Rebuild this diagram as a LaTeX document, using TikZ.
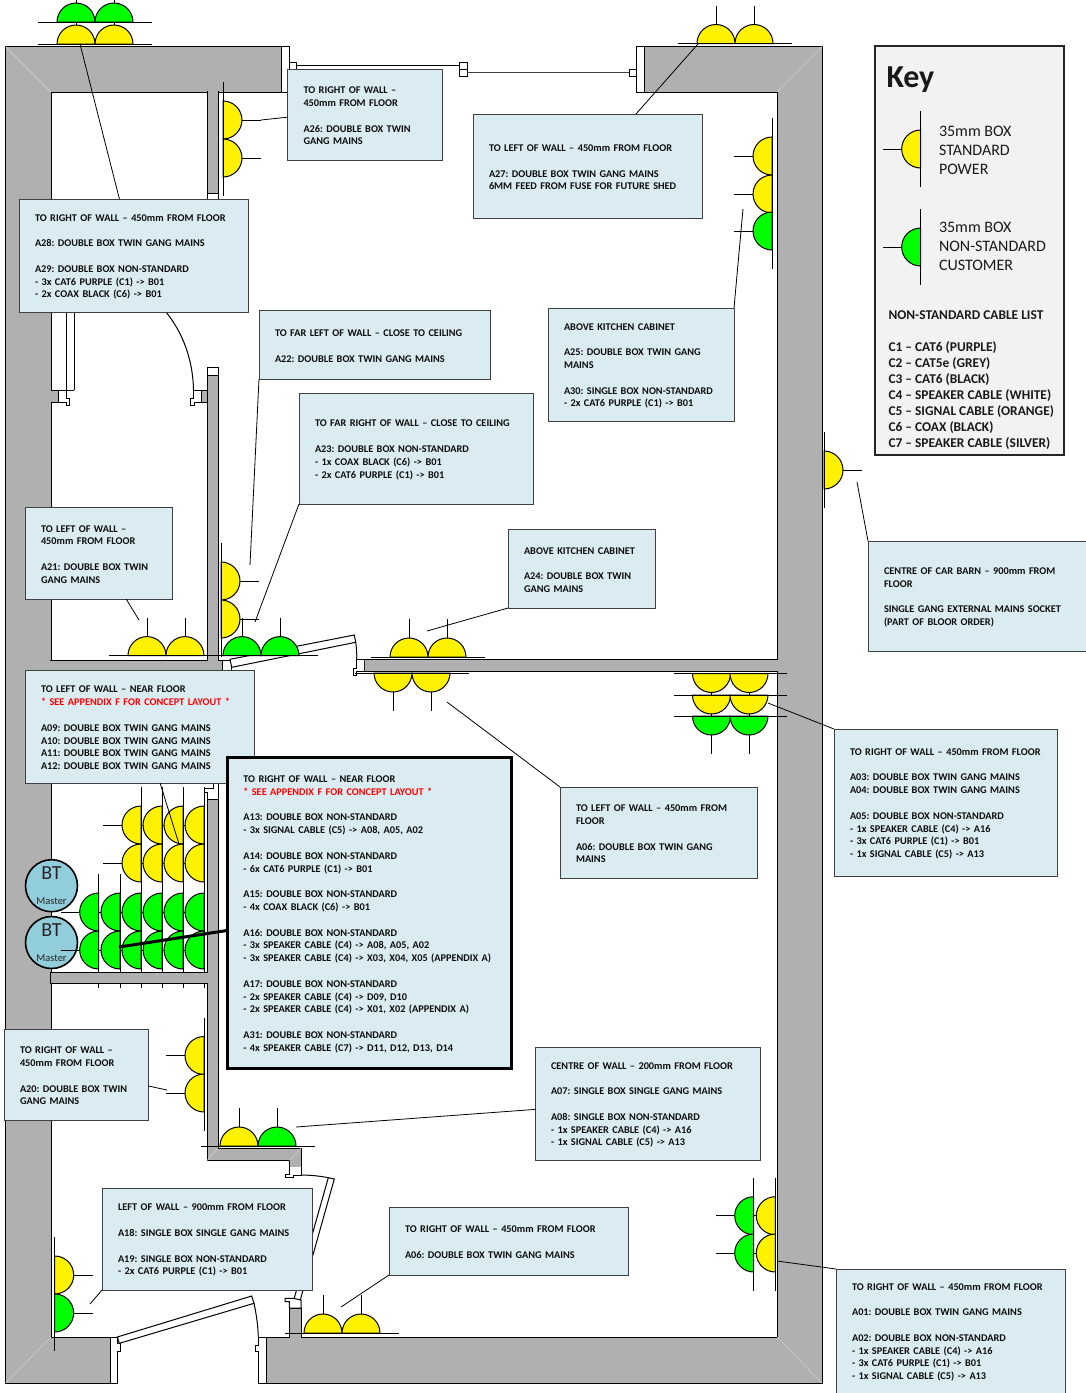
\documentclass[tikz,border=0pt]{standalone}
\usepackage{fontspec}
\setmainfont{Carlito}
\frenchspacing
\definecolor{wallgrey}{HTML}{B0B0B0}
\definecolor{noteblue}{HTML}{DAECF2}
\definecolor{keygrey}{HTML}{F2F2F2}
\definecolor{btblue}{HTML}{92CDDC}
\tikzset{
    pics/socket/.style={code={
        \draw[fill=#1] (-19,0) arc[start angle=180,end angle=360,radius=19] -- cycle;
        \draw (0,-19) -- (0,-38);
        \draw (-38,0) -- (38,0);
    }},
    wall/.style={draw,fill=wallgrey},
    jam/.style={draw,fill=white},
    mitre/.style={draw=white!85!black,line width=0.4pt},
    notebox/.style 2 args={draw=black!75,fill=noteblue,anchor=north west,outer sep=0pt,inner xsep=16pt,inner ysep=0pt,
        align=left,text=black!95,text width=(#1-32)*1pt,minimum height=#2*1pt,
        execute at begin node={\rule{0pt}{9.5pt}},
        font=\fontsize{10.3}{12.8}\selectfont\bfseries},
    btnode/.style={circle,draw,line width=1.6pt,fill=btblue,minimum size=52pt,inner sep=0pt,align=center,text=black!85},
    keytext/.style={anchor=west,inner sep=0pt,align=left,text=black!90},
    leader/.style={draw,line width=0.8pt},
}
\begin{document}
\begin{tikzpicture}[x=1pt,y=-1pt,line width=1pt]
    \path[use as bounding box,clip] (0,0) rectangle (1086,1393);

    \draw[wall] (5.5,46.5) -- (281,46.5) -- (281,92) -- (51,92) -- (51,1337) -- (110,1337) -- (110,1383) -- (5.5,1383) -- cycle;
    \draw[wall] (644,46.5) -- (822,46.5) -- (822,1383) -- (266,1383) -- (266,1337) -- (289.3,1337) -- (289.3,1308) -- (301,1308) -- (301,1337) -- (777,1337) -- (777,92) -- (644,92) -- cycle;
    \draw[mitre] (5.5,46.5) -- (51,92) (822,46.5) -- (777,92) (5.5,1383) -- (51,1337) (822,1383) -- (777,1337);

    \draw[jam] (281,46.5) rectangle (289,92);
    \draw[jam] (636.5,46.5) rectangle (644,92);
    \draw[jam] (289,62) rectangle (296.5,69);
    \draw[jam] (459,62) rectangle (467,69);
    \draw[jam] (459,69) rectangle (467,76);
    \draw[jam] (629,69) rectangle (636.5,76);
    \draw (296.5,65) -- (459,65);
    \draw[black!75] (467,72.7) -- (629,72.7);

    \foreach \x in {204,183,162,141}
        \foreach \y in {825,863}
            \pic[rotate=90] at (\x,\y) {socket=yellow};
    \node[btnode] (bta) at (51.5,885.7) {\fontsize{20}{20}\selectfont BT\\[13pt]\fontsize{10.5}{11}\selectfont Master};
    \node[btnode] (btb) at (51.5,942.5) {\fontsize{20}{20}\selectfont BT\\[13pt]\fontsize{10.5}{11}\selectfont Master};
    \foreach \x in {204,183,162,141,120,98.7}
        \foreach \y in {912,950}
            \pic[rotate=90] at (\x,\y) {socket=green};

    \draw[wall] (207,91) -- (207,193) -- (218,193) -- (218,91);
    \draw[jam] (207,193) rectangle (218,199);
    \draw[jam] (207,367) rectangle (218,375);
    \draw[wall] (50,660) -- (207,660) -- (207,375) -- (218,375) -- (218,660) -- (222,660) -- (222,670.5) -- (50,670.5);
    \draw[wall] (778,659) -- (364,659) -- (364,671) -- (778,671);
    \draw[wall] (207,799) -- (218,799) -- (218,1148) -- (301,1148) -- (301,1167) -- (289.3,1167) -- (289.3,1160.5) -- (207,1160.5) -- (207,983.5) -- (50,983.5) -- (50,972.5) -- (207,972.5) -- cycle;
    \draw[mitre] (207,1160.5) -- (218,1148) (301,1148) -- (289.3,1160.5);

    \draw (66,312) -- (66,390) (74,312) -- (74,390);
    \draw (51,390) -- (74,390);
    \draw[wall] (51,390) -- (58.5,390) -- (58.5,402) -- (51,402);
    \draw (66,390) -- (66,398) -- (69.5,398) -- (69.5,405.7) -- (66,405.7) -- (66,402) -- (58.5,402);
    \draw[wall] (207,390) -- (201,390) -- (201,402) -- (207,402);
    \draw (201,390) -- (193.3,390) -- (193.3,398) -- (190,398) -- (190,405.7) -- (194,405.7) -- (194,402) -- (201,402);
    \draw (166,312) .. controls (183,333) and (193,360) .. (193.5,390);

    \draw[jam] (222,660) rectangle (231,670.5);
    \draw[jam] (230,659.3) -- (231.7,667.3) -- (355.7,642.3) -- (354.3,635) -- cycle;
    \draw (355.7,642.3) .. controls (356.5,648) and (357,654) .. (356.7,659.3);
    \draw[jam] (364,659.3) -- (356.7,659.3) -- (356.7,668) -- (353.3,668) -- (353.3,675) -- (356.7,675) -- (356.7,671) -- (364,671);

    \draw[jam] (213,783) -- (213,788) -- (204,788) -- (204,792) -- (207,792) -- (207,799) -- (218,799) -- (218,783);

    \draw[jam] (289.3,1167) -- (289.3,1174.3) -- (285,1174.3) -- (285,1177.7) -- (293.3,1177.7) -- (293.3,1175) -- (301,1175) -- (301,1167);
    \draw (301,1175) .. controls (310,1175) and (320,1176) .. (328.3,1177.7);
    \draw[jam] (328.3,1177.7) -- (334.3,1179) -- (300,1301) -- (294,1299) -- cycle;
    \draw[jam] (285,1298.3) -- (285,1301.7) -- (289.3,1301.7) -- (289.3,1308) -- (301,1308) -- (301,1300) -- (293.3,1298.3) -- cycle;

    \draw[jam] (117.3,1337) -- (117.3,1343.3) -- (120,1343.3) -- (120,1351.7) -- (117.3,1351.7) -- (117.3,1383) -- (110,1383) -- (110,1337) -- cycle;
    \draw[jam] (117.3,1337) -- (251.7,1296) -- (254,1303.3) -- (119.3,1343.3) -- cycle;
    \draw (254,1303.3) .. controls (256.5,1315) and (258,1326) .. (258.3,1337);
    \draw[jam] (258.3,1337) -- (258.3,1345) -- (255,1345) -- (255,1351.7) -- (258.3,1351.7) -- (258.3,1383) -- (266,1383) -- (266,1337) -- cycle;

    \foreach \x in {76,114} {
        \pic at (\x,44) {socket=yellow};
        \pic at (\x,22) {socket=green};
    }
    \foreach \x in {716,754}
        \pic at (\x,43.5) {socket=yellow};
    \foreach \y in {120,158}
        \pic[rotate=-90] at (223,\y) {socket=yellow};
    \foreach \y/\c in {156/yellow,194/yellow,231/green}
        \pic[rotate=90] at (772,\y) {socket=\c};
    \foreach \y in {581,619}
        \pic[rotate=-90] at (221,\y) {socket=yellow};
    \foreach \x/\c in {147/yellow,185/yellow,242/green,280/green}
        \pic at (\x,655.6) {socket=\c};
    \foreach \x in {409,447}
        \pic at (\x,657) {socket=yellow};
    \foreach \x in {393,431}
        \pic[rotate=180] at (\x,673) {socket=yellow};
    \foreach \y/\c in {673.5/yellow,695/yellow,716/green} {
        \pic[rotate=180] at (711.5,\y) {socket=\c};
        \pic[rotate=180] at (749,\y) {socket=\c};
    }
    \foreach \y in {1055.5,1093}
        \pic[rotate=90] at (204,\y) {socket=yellow};
    \foreach \x/\c in {239/yellow,277/green}
        \pic at (\x,1146) {socket=\c};
    \foreach \y/\c in {1275/yellow,1313/green}
        \pic[rotate=-90] at (54.7,\y) {socket=\c};
    \foreach \x in {323,361}
        \pic at (\x,1333) {socket=yellow};
    \foreach \y in {1215.7,1253} {
        \pic[rotate=90] at (775.3,\y) {socket=yellow};
        \pic[rotate=90] at (753.7,\y) {socket=green};
    }
    \pic[rotate=-90] at (824,470) {socket=yellow};

    \node[draw=black!85,line width=2pt,fill=keygrey,anchor=north west,outer sep=0pt,minimum width=189pt,minimum height=409pt,inner sep=0pt] (key) at (875,46) {};
    \node[keytext,font=\fontsize{32}{34}\selectfont\bfseries] (keyhead) at (886,79.5) {Key};
    \pic[rotate=90] at (920.7,149) {socket=yellow};
    \pic[rotate=90] at (920.7,247) {socket=green};
    \node[keytext,font=\fontsize{16}{19}\selectfont] (keypower) at (938.5,150) {35mm BOX\\STANDARD\\POWER};
    \node[keytext,font=\fontsize{16}{19}\selectfont] (keycustomer) at (938.5,246) {35mm BOX\\NON-STANDARD\\CUSTOMER};
    \node[keytext,font=\fontsize{13.4}{16}\selectfont\bfseries] (keyhead2) at (888,315) {NON-STANDARD CABLE LIST};
    \node[keytext,font=\fontsize{13.4}{16}\selectfont\bfseries] (keycables) at (888,396) {C1 – CAT6 (PURPLE)\\C2 – CAT5e (GREY)\\C3 – CAT6 (BLACK)\\C4 – SPEAKER CABLE (WHITE)\\C5 – SIGNAL CABLE (ORANGE)\\C6 – COAX (BLACK)\\C7 – SPEAKER CABLE (SILVER)};

    \node[notebox={155}{91}] (a26) at (287.5,69) {TO RIGHT OF WALL –\\450mm FROM FLOOR\\[12.8pt]A26: DOUBLE BOX TWIN\\GANG MAINS};
    \node[notebox={229}{104}] (a27) at (473,114) {TO LEFT OF WALL – 450mm FROM FLOOR\\[12.8pt]A27: DOUBLE BOX TWIN GANG MAINS\\6MM FEED FROM FUSE FOR FUTURE SHED};
    \node[notebox={229}{113}] (a28) at (19,199) {TO RIGHT OF WALL – 450mm FROM FLOOR\\[12.8pt]A28: DOUBLE BOX TWIN GANG MAINS\\[12.8pt]A29: DOUBLE BOX NON-STANDARD\\- 3x CAT6 PURPLE (C1) -> B01\\- 2x COAX BLACK (C6) -> B01};
    \node[notebox={231}{69}] (a22) at (259,310) {TO FAR LEFT OF WALL – CLOSE TO CEILING\\[12.8pt]A22: DOUBLE BOX TWIN GANG MAINS};
    \node[notebox={186}{113}] (a25) at (548,308) {ABOVE KITCHEN CABINET\\[12.8pt]A25: DOUBLE BOX TWIN GANG\\MAINS\\[12.8pt]A30: SINGLE BOX NON-STANDARD\\- 2x CAT6 PURPLE (C1) -> B01};
    \node[notebox={234}{111}] (a23) at (299,393) {TO FAR RIGHT OF WALL – CLOSE TO CEILING\\[12.8pt]A23: DOUBLE BOX NON-STANDARD\\- 1x COAX BLACK (C6) -> B01\\- 2x CAT6 PURPLE (C1) -> B01};
    \node[notebox={147}{92}] (a21) at (25,507) {TO LEFT OF WALL –\\450mm FROM FLOOR\\[12.8pt]A21: DOUBLE BOX TWIN\\GANG MAINS};
    \node[notebox={147}{79}] (a24) at (508,529) {ABOVE KITCHEN CABINET\\[12.8pt]A24: DOUBLE BOX TWIN\\GANG MAINS};
    \node[notebox={218}{110}] (barn) at (868,541) {CENTRE OF CAR BARN – 900mm FROM\\FLOOR\\[12.8pt]SINGLE GANG EXTERNAL MAINS SOCKET\\(PART OF BLOOR ORDER)};
    \node[notebox={229}{113}] (a09) at (25,670) {TO LEFT OF WALL – NEAR FLOOR\\\textcolor{red}{* SEE APPENDIX F FOR CONCEPT LAYOUT *}\\[12.8pt]A09: DOUBLE BOX TWIN GANG MAINS\\A10: DOUBLE BOX TWIN GANG MAINS\\A11: DOUBLE BOX TWIN GANG MAINS\\A12: DOUBLE BOX TWIN GANG MAINS};
    \node[notebox={284}{311},draw=black,line width=3.5pt] (a13) at (227.3,757.5) {TO RIGHT OF WALL – NEAR FLOOR\\\textcolor{red}{* SEE APPENDIX F FOR CONCEPT LAYOUT *}\\[12.8pt]A13: DOUBLE BOX NON-STANDARD\\- 3x SIGNAL CABLE (C5) -> A08, A05, A02\\[12.8pt]A14: DOUBLE BOX NON-STANDARD\\- 6x CAT6 PURPLE (C1) -> B01\\[12.8pt]A15: DOUBLE BOX NON-STANDARD\\- 4x COAX BLACK (C6) -> B01\\[12.8pt]A16: DOUBLE BOX NON-STANDARD\\- 3x SPEAKER CABLE (C4) -> A08, A05, A02\\- 3x SPEAKER CABLE (C4) -> X03, X04, X05 (APPENDIX A)\\[12.8pt]A17: DOUBLE BOX NON-STANDARD\\- 2x SPEAKER CABLE (C4) -> D09, D10\\- 2x SPEAKER CABLE (C4) -> X01, X02 (APPENDIX A)\\[12.8pt]A31: DOUBLE BOX NON-STANDARD\\- 4x SPEAKER CABLE (C7) -> D11, D12, D13, D14};
    \node[notebox={197}{91}] (a06up) at (560,787) {TO LEFT OF WALL – 450mm FROM\\FLOOR\\[12.8pt]A06: DOUBLE BOX TWIN GANG\\MAINS};
    \node[notebox={223}{147}] (a03) at (834,729) {TO RIGHT OF WALL – 450mm FROM FLOOR\\[12.8pt]A03: DOUBLE BOX TWIN GANG MAINS\\A04: DOUBLE BOX TWIN GANG MAINS\\[12.8pt]A05: DOUBLE BOX NON-STANDARD\\- 1x SPEAKER CABLE (C4) -> A16\\- 3x CAT6 PURPLE (C1) -> B01\\- 1x SIGNAL CABLE (C5) -> A13};
    \node[notebox={144}{91}] (a20) at (4,1029) {TO RIGHT OF WALL –\\450mm FROM FLOOR\\[12.8pt]A20: DOUBLE BOX TWIN\\GANG MAINS};
    \node[notebox={225}{113}] (a07) at (535,1047) {CENTRE OF WALL – 200mm FROM FLOOR\\[12.8pt]A07: SINGLE BOX SINGLE GANG MAINS\\[12.8pt]A08: SINGLE BOX NON-STANDARD\\- 1x SPEAKER CABLE (C4) -> A16\\- 1x SIGNAL CABLE (C5) -> A13};
    \node[notebox={210}{102}] (a18) at (102,1188) {LEFT OF WALL – 900mm FROM FLOOR\\[12.8pt]A18: SINGLE BOX SINGLE GANG MAINS\\[12.8pt]A19: SINGLE BOX NON-STANDARD\\- 2x CAT6 PURPLE (C1) -> B01};
    \node[notebox={239}{68}] (a06low) at (389,1207) {TO RIGHT OF WALL – 450mm FROM FLOOR\\[12.8pt]A06: DOUBLE BOX TWIN GANG MAINS};
    \node[notebox={229}{124}] (a01) at (836,1269) {TO RIGHT OF WALL – 450mm FROM FLOOR\\[12.8pt]A01: DOUBLE BOX TWIN GANG MAINS\\[12.8pt]A02: DOUBLE BOX NON-STANDARD\\- 1x SPEAKER CABLE (C4) -> A16\\- 3x CAT6 PURPLE (C1) -> B01\\- 1x SIGNAL CABLE (C5) -> A13};

    \coordinate (enda28) at (80,44);
    \coordinate (enda26) at (261,120);
    \coordinate (enda27) at (698,44);
    \coordinate (enda25) at (743,209);
    \coordinate (enda22) at (250,565);
    \coordinate (enda23) at (255,622);
    \coordinate (enda21) at (139,620);
    \coordinate (enda24) at (427,631);
    \coordinate (enda06up) at (447,702);
    \coordinate (enda03) at (768,703);
    \coordinate (endbarn) at (857,482);
    \coordinate (enda09) at (179,844);
    \coordinate (enda13) at (119,947);
    \coordinate (enda20) at (167,1090);
    \coordinate (enda07) at (296,1127);
    \coordinate (enda18) at (90,1304);
    \coordinate (enda06low) at (341,1307);
    \coordinate (enda01) at (777,1261);

    \draw[leader] (a28.104.4) -- (enda28);
    \draw[leader] (a26.182.6) -- (enda26);
    \draw[leader] (a27.47.6) -- (enda27);
    \draw[leader] (a25.north east) -- (enda25);
    \draw[leader] (a22.south west) -- (enda22);
    \draw[leader] (a23.south west) -- (enda23);
    \draw[leader] (a21.-59.1) -- (enda21);
    \draw[leader] (a24.south west) -- (enda24);
    \draw[leader] (a06up.north west) -- (enda06up);
    \draw[leader] (a03.north west) -- (enda03);
    \draw[leader] (barn.north west) -- (endbarn);
    \draw[leader] (a09.-70) -- (enda09);
    \draw[line width=3pt] (a13.187.8) -- (enda13);
    \draw[leader] (a20.-9.85) -- (enda20);
    \draw[leader] (a07.183.8) -- (enda07);
    \draw[leader] (a18.south west) -- (enda18);
    \draw[leader] (a06low.south west) -- (enda06low);
    \draw[leader] (a01.north west) -- (enda01);
\end{tikzpicture}
\end{document}
